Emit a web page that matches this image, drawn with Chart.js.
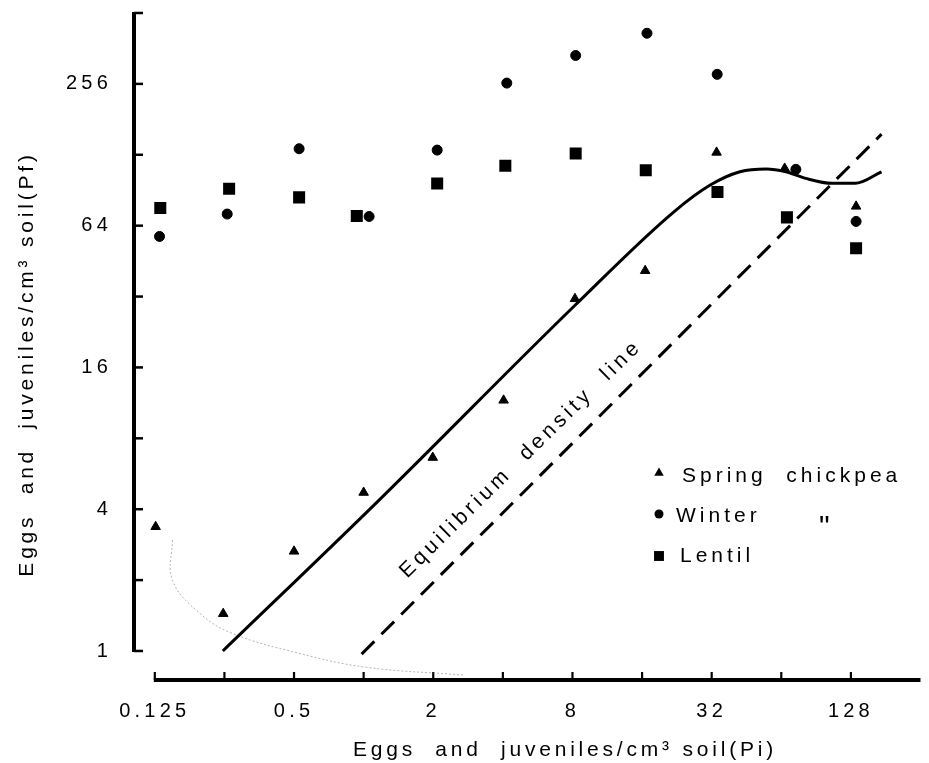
<!DOCTYPE html>
<html>
<head>
<meta charset="utf-8">
<title>Pf against Pi</title>
<script src="https://cdn.jsdelivr.net/npm/chart.js"></script>
<style>
  html, body { margin: 0; padding: 0; background: #fff; }
  #chart { display: block; }
</style>
</head>
<body>
<canvas id="chart" width="929" height="763"></canvas>
<script>
// Pi = initial, Pf = final eggs and juveniles / cm3 soil
var springPi = [0.126, 0.247, 0.5, 1.0, 1.99, 4.03, 8.2, 16.5, 33.6, 66.2, 134.8];
var springPf = [3.37, 1.44, 2.65, 4.71, 6.63, 11.6, 31.3, 41.2, 131, 112, 77.3];

var winterPi = [0.131, 0.257, 0.526, 1.056, 2.08, 4.16, 8.26, 16.8, 33.8, 74, 134.8];
var winterPf = [57.6, 71.7, 135.8, 70, 134, 258, 338, 420, 281, 111, 66.7];

var lentilPi = [0.132, 0.262, 0.526, 0.934, 2.08, 4.1, 8.26, 16.6, 33.9, 67.7, 134.8];
var lentilPf = [76, 91.9, 84.4, 70.4, 96.7, 115, 129.6, 110, 89, 69.4, 51.3];

// fitted curve (solid line)
var fitPi = [0.246, 1.146, 8.21, 21.97, 31.55, 42.4, 55.1, 67.0, 81.6, 106.1, 133.5, 173.7];
var fitPf = [1.0, 4.3, 29.4, 73.3, 95.2, 108.4, 111.4, 108.4, 101.6, 96.8, 96.8, 108.4];

// equilibrium density line (dashed)
var equilPi = [0.98, 173.7];
var equilPf = [0.97, 156.6];

// faint pencil trace near the origin
var tracePi = [0.149, 0.149, 0.195, 0.269, 0.521, 1.01, 2.7];
var tracePf = [2.96, 2.0, 1.45, 1.19, 0.98, 0.855, 0.79];

var xTickValues = [0.125, 0.25, 0.5, 1, 2, 4, 8, 16, 32, 64, 128];
var xTickLabels = ['0.125', '', '0.5', '', '2', '', '8', '', '32', '', '128'];
var yTickValues = [1, 2, 4, 8, 16, 32, 64, 128, 256, 512];
var yTickLabels = ['1', '', '4', '', '16', '', '64', '', '256', ''];

var FONT = '"Liberation Sans", Arial, Helvetica, sans-serif';

function toPoints(xs, ys) {
    return xs.map(function(x, i) { return { x: x, y: ys[i] }; });
}

function drawMarker(ctx, style, x, y, r) {
    ctx.beginPath();
    if (style === 'triangle') {
        ctx.moveTo(x, y - r);
        ctx.lineTo(x + r * Math.sin(2 * Math.PI / 3), y + r / 2);
        ctx.lineTo(x - r * Math.sin(2 * Math.PI / 3), y + r / 2);
        ctx.closePath();
    } else if (style === 'rect') {
        var s = r * Math.SQRT1_2;
        ctx.rect(x - s, y - s, 2 * s, 2 * s);
    } else {
        ctx.arc(x, y, r, 0, 2 * Math.PI);
    }
    ctx.fill();
}

// axes are drawn by hand: they do not meet at the corner in the original
var handAxes = {
    id: 'handAxes',
    beforeDraw: function(chart) {
        chart.ctx.letterSpacing = '4.2px';
    },
    beforeDatasetsDraw: function(chart) {
        var ctx = chart.ctx;
        var xs = chart.scales.x, ys = chart.scales.y, area = chart.chartArea;
        ctx.save();
        ctx.strokeStyle = '#000';
        ctx.lineCap = 'butt';

        var ax = area.left;
        var yb = ys.getPixelForValue(yTickValues[0]);
        var yt = ys.getPixelForValue(yTickValues[yTickValues.length - 1]);
        ctx.lineWidth = 4;
        ctx.beginPath();
        ctx.moveTo(ax, yb + 1);
        ctx.lineTo(ax, yt - 1);
        ctx.stroke();
        ctx.lineWidth = 2.5;
        yTickValues.forEach(function(v) {
            var p = ys.getPixelForValue(v);
            ctx.beginPath();
            ctx.moveTo(ax, p);
            ctx.lineTo(ax + 9, p);
            ctx.stroke();
        });

        var ay = area.bottom;
        var xl = xs.getPixelForValue(xTickValues[0]);
        ctx.lineWidth = 4;
        ctx.beginPath();
        ctx.moveTo(xl - 1, ay);
        ctx.lineTo(area.right, ay);
        ctx.stroke();
        ctx.lineWidth = 2.2;
        xTickValues.forEach(function(v) {
            var p = xs.getPixelForValue(v);
            ctx.beginPath();
            ctx.moveTo(p, ay);
            ctx.lineTo(p, ay - 8);
            ctx.stroke();
        });
        ctx.restore();
    },
    afterDraw: function(chart) {
        var ctx = chart.ctx;
        ctx.save();
        ctx.fillStyle = '#000';
        ctx.font = '21px ' + FONT;
        ctx.letterSpacing = '3.8px';
        ctx.textBaseline = 'alphabetic';
        ctx.textAlign = 'center';

        // axis titles
        ctx.fillText('Eggs  and  juveniles/cm\u00B3 soil(Pi)', 565, 756);
        ctx.save();
        ctx.translate(33, 364);
        ctx.rotate(-Math.PI / 2);
        ctx.fillText('Eggs  and  juveniles/cm\u00B3 soil(Pf)', 0, 0);
        ctx.restore();

        // label along the dashed line
        ctx.save();
        ctx.translate(525, 463);
        ctx.rotate(-44.5 * Math.PI / 180);
        ctx.letterSpacing = '4px';
        ctx.fillText('Equilibrium  density  line', 0, 0);
        ctx.restore();

        // legend
        var items = [
            { ds: 0, r: 5.5, y: 473, ty: 481.5, tx: 682, text: 'Spring  chickpea' },
            { ds: 1, r: 4.5, y: 514, ty: 521.5, tx: 676, text: 'Winter' },
            { ds: 2, r: 7, y: 556, ty: 561.5, tx: 680, text: 'Lentil' }
        ];
        ctx.textAlign = 'left';
        ctx.letterSpacing = '4px';
        items.forEach(function(it) {
            var ds = chart.data.datasets[it.ds];
            drawMarker(ctx, ds.pointStyle, 659, it.y, it.r);
            ctx.fillText(it.text, it.tx, it.ty);
        });
        // ditto mark under "chickpea"
        ctx.letterSpacing = '0px';
        ctx.font = '30px ' + FONT;
        ctx.fillText('"', 819, 536);
        ctx.restore();
    }
};

var ctx = document.getElementById('chart').getContext('2d');
var myChart = new Chart(ctx, {
    type: 'scatter',
    data: {
        datasets: [
            {
                label: 'Spring chickpea',
                data: toPoints(springPi, springPf),
                pointStyle: 'triangle',
                pointRadius: 5.5,
                backgroundColor: '#000',
                borderColor: '#000',
                borderWidth: 1
            },
            {
                label: 'Winter chickpea',
                data: toPoints(winterPi, winterPf),
                pointStyle: 'circle',
                pointRadius: 5,
                backgroundColor: '#000',
                borderColor: '#000',
                borderWidth: 1
            },
            {
                label: 'Lentil',
                data: toPoints(lentilPi, lentilPf),
                pointStyle: 'rect',
                pointRadius: 8.5,
                backgroundColor: '#000',
                borderColor: '#000',
                borderWidth: 0
            },
            {
                label: 'Fitted',
                data: toPoints(fitPi, fitPf),
                showLine: true,
                pointRadius: 0,
                borderColor: '#000',
                borderWidth: 3,
                cubicInterpolationMode: 'monotone'
            },
            {
                label: 'Equilibrium density line',
                data: toPoints(equilPi, equilPf),
                showLine: true,
                pointRadius: 0,
                borderColor: '#000',
                borderWidth: 3,
                borderDash: [18, 10]
            },
            {
                label: 'trace',
                data: toPoints(tracePi, tracePf),
                showLine: true,
                pointRadius: 0,
                borderColor: 'rgba(120,120,120,0.55)',
                borderWidth: 1,
                borderDash: [2, 2],
                tension: 0.4
            }
        ]
    },
    options: {
        responsive: false,
        animation: false,
        devicePixelRatio: 1,
        layout: {
            padding: { top: 13, right: 0, bottom: 0, left: 0 }
        },
        plugins: {
            legend: { display: false },
            tooltip: { enabled: false },
            title: { display: false }
        },
        scales: {
            x: {
                type: 'logarithmic',
                position: 'bottom',
                min: 0.1016,
                max: 256,
                grid: { display: false, drawTicks: false },
                border: { display: false },
                ticks: {
                    autoSkip: false,
                    maxRotation: 0,
                    padding: 19,
                    color: '#000',
                    font: { family: FONT, size: 20 },
                    callback: function(value) {
                        var i = xTickValues.indexOf(value);
                        return i < 0 ? '' : xTickLabels[i];
                    }
                },
                afterBuildTicks: function(scale) {
                    scale.ticks = xTickValues.map(function(v) { return { value: v }; });
                },
                afterFit: function(scale) {
                    scale.height = 83;
                    scale.paddingLeft = 0;
                    scale.paddingRight = 0;
                }
            },
            y: {
                type: 'logarithmic',
                position: 'left',
                min: 0.753,
                max: 512,
                grid: { display: false, drawTicks: false },
                border: { display: false },
                ticks: {
                    autoSkip: false,
                    padding: 22,
                    color: '#000',
                    font: { family: FONT, size: 20 },
                    callback: function(value) {
                        var i = yTickValues.indexOf(value);
                        return i < 0 ? '' : yTickLabels[i];
                    }
                },
                afterBuildTicks: function(scale) {
                    scale.ticks = yTickValues.map(function(v) { return { value: v }; });
                },
                afterFit: function(scale) {
                    scale.width = 134;
                    scale.paddingTop = 0;
                    scale.paddingBottom = 0;
                }
            }
        }
    },
    plugins: [handAxes]
});
</script>
</body>
</html>
